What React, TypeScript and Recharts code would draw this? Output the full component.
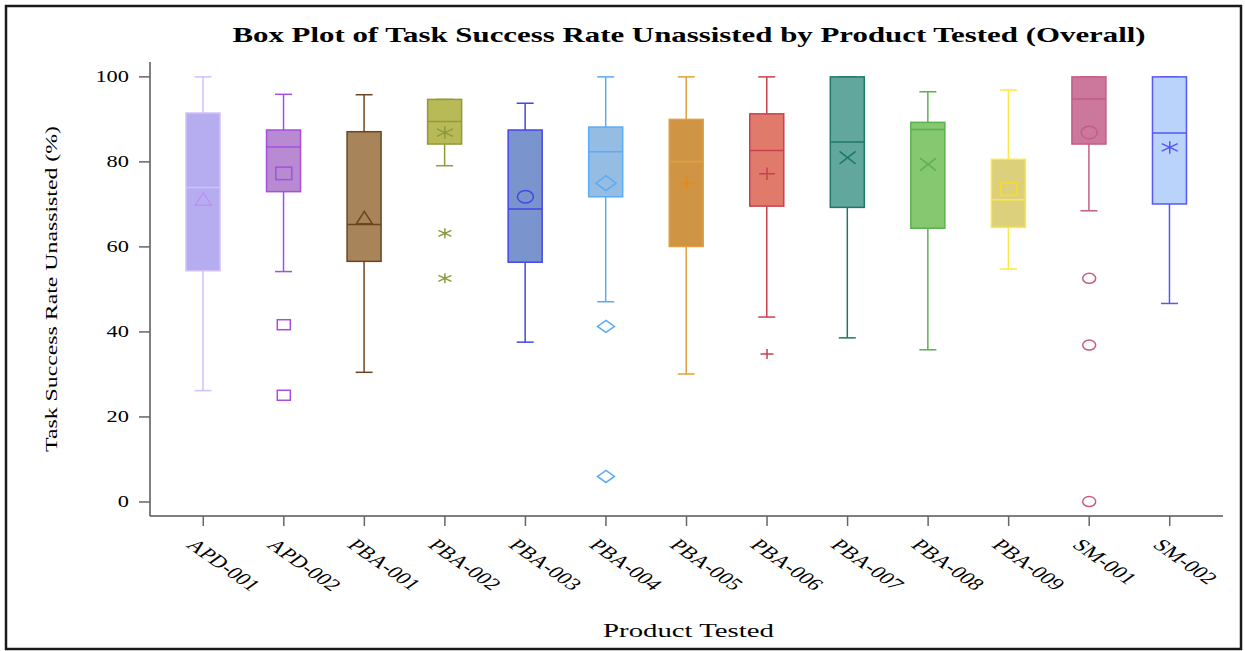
import React from 'react';
import { ComposedChart, Bar, Scatter, XAxis, YAxis } from 'recharts';

const categories = ['APD-001', 'APD-002', 'PBA-001', 'PBA-002', 'PBA-003', 'PBA-004', 'PBA-005', 'PBA-006', 'PBA-007', 'PBA-008', 'PBA-009', 'SM-001', 'SM-002'];
const whiskerLow = [26.2, 54.2, 30.5, 79.1, 37.6, 47.1, 30.1, 43.5, 38.6, 35.8, 54.8, 68.5, 46.7];
const q1 = [54.4, 73.0, 56.6, 84.2, 56.4, 71.8, 60.1, 69.6, 69.3, 64.4, 64.6, 84.2, 70.1];
const median = [74.0, 83.5, 65.3, 89.5, 68.9, 82.4, 80.1, 82.7, 84.7, 87.6, 71.1, 94.8, 86.8];
const q3 = [91.5, 87.5, 87.1, 94.7, 87.5, 88.2, 90.0, 91.3, 100, 89.3, 80.6, 100, 100];
const whiskerHigh = [100, 95.9, 95.8, 94.7, 93.8, 100, 100, 100, 100, 96.5, 96.9, 100, 100];
const means = [71.3, 77.3, 66.9, 86.9, 71.8, 75.0, 75.1, 77.2, 81.0, 79.4, 73.6, 86.9, 83.4];
const outliers: number[][] = [[], [41.7, 25.1], [], [63.2, 52.6], [], [41.3, 6.0], [], [34.8], [], [], [], [52.6, 36.9, 0.1], []];
const markers = ['triangle', 'square', 'triangle', 'asterisk', 'circle', 'diamond', 'plus', 'plus', 'x', 'x', 'square', 'circle', 'asterisk'];
const yTicks = [0, 20, 40, 60, 80, 100];

const FILL = ['#b6adf0', '#b88ad2', '#a8845a', '#b8ba58', '#7a95cd', '#95bde4', '#cf9444', '#e07b6b', '#62a79d', '#86c86f', '#dcd07c', '#cc789d', '#b9d3fb'];
const STROKE = ['#d3bffa', '#a54ee0', '#6b4520', '#909b38', '#4545e5', '#5aabf5', '#e3a040', '#c8404f', '#1d7868', '#5cb052', '#ffe640', '#c45d82', '#5858f0'];
const MARK = ['#c08ef5', '#a54ee0', '#6b4520', '#8a9a40', '#4545e5', '#5aabf5', '#e08a20', '#c8404f', '#1d7868', '#5cb052', '#f5dc30', '#c45d82', '#5858f0'];

const FONT = '"Liberation Serif", "Times New Roman", serif';
const SX = 1.47;

const data = categories.map((name, i) => ({
  name,
  idx: i,
  range: [whiskerLow[i], whiskerHigh[i]],
  lo: whiskerLow[i],
  q1: q1[i],
  med: median[i],
  q3: q3[i],
  hi: whiskerHigh[i],
  mean: means[i],
  o1: outliers[i][0] ?? null,
  o2: outliers[i][1] ?? null,
  o3: outliers[i][2] ?? null,
}));

function Marker({ type, cx, cy, w, h, color }: any) {
  const hw = w / 2;
  const hh = h / 2;
  const common = { stroke: color, strokeWidth: 1.5, fill: 'none' };
  switch (type) {
    case 'triangle':
      return <polygon points={`${cx},${cy - hh} ${cx + hw},${cy + hh} ${cx - hw},${cy + hh}`} {...common} />;
    case 'square':
      return <rect x={cx - hw} y={cy - hh} width={w} height={h} {...common} />;
    case 'circle':
      return <ellipse cx={cx} cy={cy} rx={hw} ry={hh} {...common} />;
    case 'diamond':
      return <polygon points={`${cx},${cy - hh} ${cx + hw},${cy} ${cx},${cy + hh} ${cx - hw},${cy}`} {...common} />;
    case 'plus':
      return <path d={`M${cx - hw},${cy}H${cx + hw}M${cx},${cy - hh}V${cy + hh}`} {...common} />;
    case 'x':
      return <path d={`M${cx - hw},${cy - hh}L${cx + hw},${cy + hh}M${cx + hw},${cy - hh}L${cx - hw},${cy + hh}`} {...common} />;
    case 'asterisk':
      return <path d={`M${cx - hw},${cy - hh * 0.6}L${cx + hw},${cy + hh * 0.6}M${cx + hw},${cy - hh * 0.6}L${cx - hw},${cy + hh * 0.6}M${cx},${cy - hh}V${cy + hh}`} {...common} />;
    default:
      return null;
  }
}

const BoxShape = (props: any) => {
  const { x, y, width, height, payload } = props;
  if (!payload) return null;
  const i = payload.idx;
  const top = Math.min(y, y + height);
  const h = Math.abs(height);
  const k = h / (payload.hi - payload.lo);
  const py = (v: number) => top + (payload.hi - v) * k;
  const cx = x + width / 2;
  const cap = width / 4;
  const c = STROKE[i];
  return (
    <g>
      <line x1={cx} x2={cx} y1={py(payload.hi)} y2={py(payload.q3)} stroke={c} strokeWidth={1.5} />
      <line x1={cx} x2={cx} y1={py(payload.q1)} y2={py(payload.lo)} stroke={c} strokeWidth={1.5} />
      <line x1={cx - cap} x2={cx + cap} y1={py(payload.hi)} y2={py(payload.hi)} stroke={c} strokeWidth={1.5} />
      <line x1={cx - cap} x2={cx + cap} y1={py(payload.lo)} y2={py(payload.lo)} stroke={c} strokeWidth={1.5} />
      <rect x={x} y={py(payload.q3)} width={width} height={py(payload.q1) - py(payload.q3)} fill={FILL[i]} stroke={c} strokeWidth={1.5} />
      <line x1={x} x2={x + width} y1={py(payload.med)} y2={py(payload.med)} stroke={c} strokeWidth={1.5} />
    </g>
  );
};

const meanShape = (props: any) => {
  const { cx, cy, payload } = props;
  if (!payload || payload.mean == null || !isFinite(cy)) return <g />;
  const i = payload.idx;
  const big = markers[i] === 'diamond' ? [20, 15] : [16, 12.5];
  return <Marker type={markers[i]} cx={cx} cy={cy} w={big[0]} h={big[1]} color={MARK[i]} />;
};

const outlierShape = (key: string) => (props: any) => {
  const { cx, cy, payload } = props;
  if (!payload || payload[key] == null || !isFinite(cy)) return <g />;
  const i = payload.idx;
  const sz = markers[i] === 'diamond' ? [17, 12] : [13, 10];
  return <Marker type={markers[i]} cx={cx} cy={cy} w={sz[0]} h={sz[1]} color={MARK[i]} />;
};

const XTick = (props: any) => {
  const { x, y, payload } = props;
  return (
    <text transform={`translate(${x - 18},${y + 18}) scale(1.42,1) rotate(45)`} fontSize={17} fontFamily={FONT} fill="#000" textAnchor="start">
      {payload.value}
    </text>
  );
};

const YTick = (props: any) => {
  const { x, y, payload } = props;
  return (
    <text transform={`translate(${x},${y}) scale(1.4,1)`} dy={5.5} fontSize={16} fontFamily={FONT} fill="#000" textAnchor="end">
      {payload.value}
    </text>
  );
};

const XLabel = (props: any) => {
  const vb = props.viewBox || {};
  return (
    <text transform={`translate(${vb.x + vb.width / 2 + 2},${vb.y + 121}) scale(1.6,1)`} fontSize={18} fontFamily={FONT} fill="#000" textAnchor="middle">
      Product Tested
    </text>
  );
};

const YLabel = (props: any) => {
  const vb = props.viewBox || {};
  return (
    <text transform={`translate(${vb.x + 57},${vb.y + vb.height / 2}) rotate(-90) scale(1.36,1)`} fontSize={17.5} fontFamily={FONT} fill="#000" textAnchor="middle">
      Task Success Rate Unassisted (%)
    </text>
  );
};

export default function App() {
  return (
    <div style={{ position: 'absolute', left: 0, top: 0, width: 1245, height: 651, background: '#fff' }}>
      <ComposedChart width={1245} height={651} data={data} margin={{ top: 62, right: 22, bottom: 0, left: 0 }}>
        <XAxis
          dataKey="name"
          type="category"
          padding={{ left: 13, right: 13 }}
          height={135}
          tick={<XTick />}
          tickSize={10}
          tickMargin={2}
          tickLine={{ stroke: '#666', strokeWidth: 1.5 }}
          axisLine={{ stroke: '#555', strokeWidth: 1.5 }}
          interval={0}
          label={<XLabel />}
        />
        <XAxis xAxisId="top" orientation="top" dataKey="name" height={0} tick={false} tickLine={false} axisLine={{ stroke: '#555', strokeWidth: 1.5 }} />
        <YAxis
          type="number"
          domain={[-3.3, 103.5]}
          ticks={yTicks}
          width={150}
          tick={<YTick />}
          tickSize={11}
          tickMargin={10}
          tickLine={{ stroke: '#666', strokeWidth: 1.5 }}
          axisLine={{ stroke: '#555', strokeWidth: 1.5 }}
          allowDataOverflow
          label={<YLabel />}
        />
        <YAxis yAxisId="right" orientation="right" type="number" domain={[-3.3, 103.5]} width={0} tick={false} tickLine={false} axisLine={{ stroke: '#555', strokeWidth: 1.5 }} />
        <Bar dataKey="range" barSize={34} shape={BoxShape} isAnimationActive={false} />
        <Scatter dataKey="mean" shape={meanShape} isAnimationActive={false} />
        <Scatter dataKey="o1" shape={outlierShape('o1')} isAnimationActive={false} />
        <Scatter dataKey="o2" shape={outlierShape('o2')} isAnimationActive={false} />
        <Scatter dataKey="o3" shape={outlierShape('o3')} isAnimationActive={false} />
      </ComposedChart>
      <svg width={1245} height={651} style={{ position: 'absolute', left: 0, top: 0, pointerEvents: 'none' }}>
        <rect x={6} y={6} width={1235} height={643} fill="none" stroke="#1a1a1a" strokeWidth={2.5} />
        <text transform={`translate(689,42) scale(${SX},1)`} fontSize={21} fontWeight="bold" fontFamily={FONT} fill="#000" textAnchor="middle">
          Box Plot of Task Success Rate Unassisted by Product Tested (Overall)
        </text>
      </svg>
    </div>
  );
}
